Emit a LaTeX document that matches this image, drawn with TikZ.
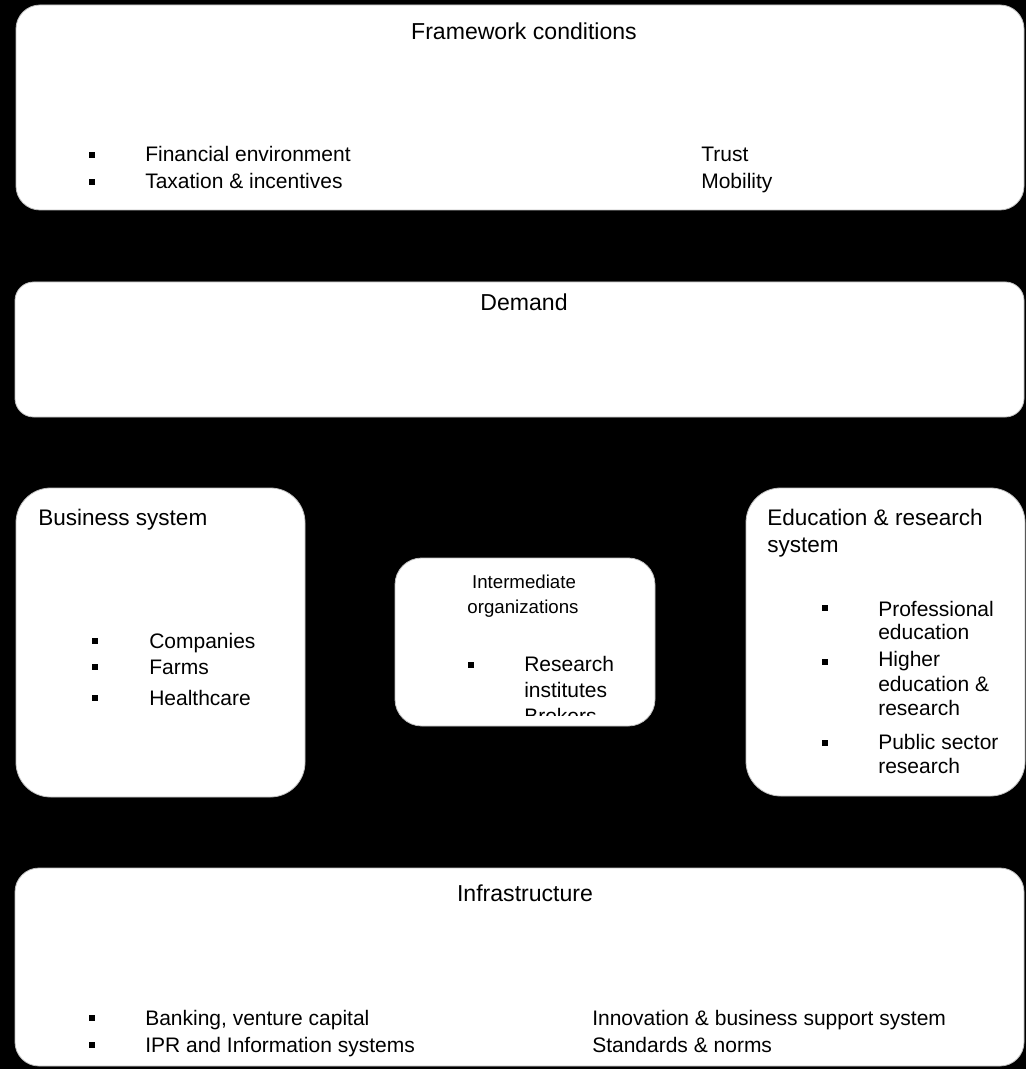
\documentclass[tikz,border=0pt]{standalone}
\usepackage{fontspec}
\setmainfont{Liberation Sans}
\begin{document}
\begin{tikzpicture}[x=0.75pt,y=-0.75pt,
  box/.style={fill=white, draw=gray!50, line width=0.6pt},
  ttl/.style={font=\fontsize{17.3}{20}\selectfont, inner sep=0pt, anchor=base},
  hdr/.style={font=\fontsize{16.9}{20}\selectfont, inner sep=0pt, anchor=base west},
  itm/.style={font=\fontsize{15.75}{19}\selectfont, inner sep=0pt, anchor=base west},
  small/.style={font=\fontsize{14}{16}\selectfont, inner sep=0pt, anchor=base},
  bul/.style={fill=black, minimum size=3.8pt, inner sep=0pt}]
\useasboundingbox[fill=black] (0,0) rectangle (1026,1069);

% boxes
\draw[box, rounded corners=18pt] (16,5) rectangle (1024,210);
\draw[box, rounded corners=14pt] (15,282) rectangle (1024,417);
\draw[box, rounded corners=26pt] (16,488) rectangle (305,797);
\draw[box, rounded corners=20pt] (395,558) rectangle (655,726);
\draw[box, rounded corners=26pt] (746,488) rectangle (1025,796);
\draw[box, rounded corners=18pt] (15,868) rectangle (1024,1066);

% Framework conditions
\node[ttl] (fwt) at (524,40) {Framework conditions};
\node[bul] (fwb1) at (92,155) {};
\node[bul] (fwb2) at (92,182) {};
\node[itm] (fw1) at (145,162) {Financial environment};
\node[itm] (fw2) at (145,189) {Taxation \& incentives};
\node[itm] (fw3) at (701,162) {Trust};
\node[itm] (fw4) at (701,189) {Mobility};

% Demand
\node[ttl] (dem) at (524,311) {Demand};

% Business system
\node[hdr] (bst) at (38,525) {Business system};
\node[bul] (bsb1) at (95,641) {};
\node[bul] (bsb2) at (95,667) {};
\node[bul] (bsb3) at (95,698) {};
\node[itm] (bs1) at (149,648.5) {Companies};
\node[itm] (bs2) at (149,674.5) {Farms};
\node[itm] (bs3) at (149,705.5) {Healthcare};

% Intermediate organizations
\node[small] (imt1) at (524,588) {Intermediate};
\node[small] (imt2) at (523,613) {organizations};
\node[bul] (imb1) at (471,665) {};
\node[itm] (im1) at (524,671.5) {Research};
\node[itm] (im2) at (524,697.5) {institutes};
\begin{scope}
  \clip (400,560) rectangle (650,715);
  \node[itm] (im3) at (524,723.5) {Brokers};
\end{scope}

% Education & research system
\node[hdr] (edt1) at (767,525) {Education \& research};
\node[hdr] (edt2) at (767,552) {system};
\node[bul] (edb1) at (825,608) {};
\node[bul] (edb2) at (825,662) {};
\node[bul] (edb3) at (825,743) {};
\node[itm] (ed1) at (878,616) {Professional};
\node[itm] (ed2) at (878,639) {education};
\node[itm] (ed3) at (878,666) {Higher};
\node[itm] (ed4) at (878,691) {education \&};
\node[itm] (ed5) at (878,715) {research};
\node[itm] (ed6) at (878,749) {Public sector};
\node[itm] (ed7) at (878,773) {research};

% Infrastructure
\node[ttl] (inf) at (525,901) {Infrastructure};
\node[bul] (ifb1) at (92,1018) {};
\node[bul] (ifb2) at (92,1045) {};
\node[itm] (if1) at (145,1025) {Banking, venture capital};
\node[itm] (if2) at (145,1052) {IPR and Information systems};
\node[itm] (if3) at (592,1025) {Innovation \& business support system};
\node[itm] (if4) at (592,1052) {Standards \& norms};
\end{tikzpicture}
\end{document}
